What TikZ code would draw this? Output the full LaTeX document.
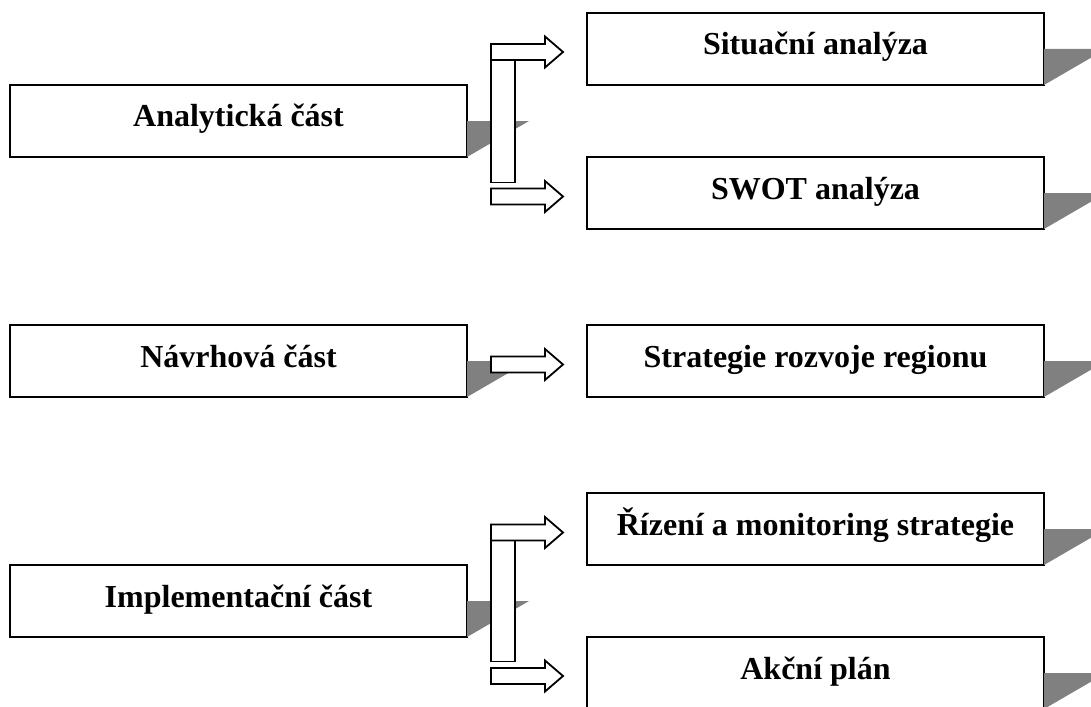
\documentclass[tikz,border=0pt]{standalone}
\usepackage{fontspec}
\setmainfont{Liberation Serif}
\usetikzlibrary{calc}
\begin{document}
\begin{tikzpicture}[x=1pt,y=-1pt,
  box/.style={draw, line width=2pt, fill=white, minimum width=457pt,
    minimum height=72pt, inner sep=0pt, outer sep=0pt, text height=22pt, text depth=10pt,
    font=\fontsize{32}{38}\selectfont\bfseries, anchor=north west},
  shadowfill/.style={fill=gray},
  barbox/.style={draw, line width=1.8pt, fill=white},
  blockarrow/.pic={\draw[line width=1.8pt, fill=white, line join=miter]
    (0,-8) -- (54,-8) -- (54,-15.5) -- (72,0) -- (54,15.5) -- (54,8) -- (0,8) -- cycle;}]
\useasboundingbox (0,0) rectangle (1091,706);
\clip (0,0) rectangle (1091,706);
\fill[white] (0,0) rectangle (1091,706);
% boxes
\node[box] (ana) at (10,85) {Analytická část};
\node[box] (sit) at (587,13) {Situační analýza};
\node[box] (swot) at (587,157) {SWOT analýza};
\node[box] (nav) at (10,325) {Návrhová část};
\node[box] (str) at (587,325) {Strategie rozvoje regionu};
\node[box] (imp) at (10,565) {Implementační část};
\node[box] (riz) at (587,493) {Řízení a monitoring strategie};
\node[box] (akc) at (587,637) {Akční plán};
% shadows
\foreach \n in {ana,sit,swot,nav,str,imp,riz,akc}{
  \fill[shadowfill] (\n.east) -- ++(62,0) -- (\n.south east) -- cycle;
}
% bars
\draw[barbox] ($(sit.west)+(-96,11.5)$) rectangle ++(24,122);
\draw[barbox] ($(riz.west)+(-96,11.5)$) rectangle ++(24,121);
% block arrows
\path ($(sit.west)+(-96,3)$) pic {blockarrow};
\path ($(swot.west)+(-96,3.5)$) pic {blockarrow};
\path ($(str.west)+(-96,3.5)$) pic {blockarrow};
\path ($(riz.west)+(-96,3.5)$) pic {blockarrow};
\path ($(akc.west)+(-96,3)$) pic {blockarrow};
\end{tikzpicture}
\end{document}
